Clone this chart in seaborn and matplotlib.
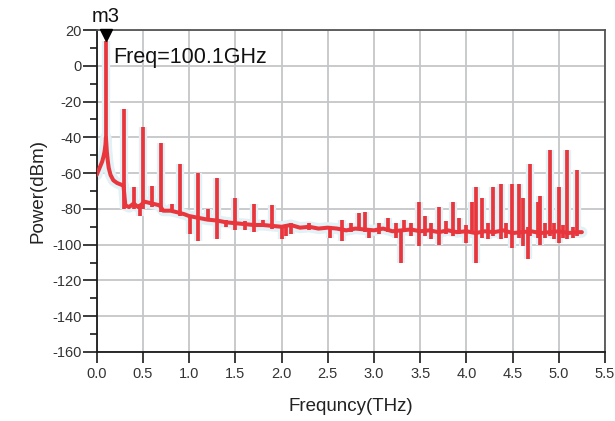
import matplotlib
matplotlib.use("Agg")
import matplotlib.pyplot as plt
from matplotlib.ticker import MultipleLocator
import pandas as pd
import seaborn as sns

# Spectrum floor (THz, dBm)
floor_freq = [0.00, 0.02, 0.04, 0.06, 0.075, 0.085, 0.095, 0.10, 0.105, 0.11,
              0.12, 0.13, 0.15, 0.18, 0.22, 0.29,
              0.31, 0.35, 0.40, 0.45, 0.52, 0.60, 0.68, 0.72, 0.80, 0.88,
              0.95, 1.00, 1.10, 1.20, 1.30, 1.40, 1.50, 1.60, 1.70, 1.80,
              1.90, 2.00, 2.10, 2.20, 2.30, 2.40, 2.50, 2.60, 2.70, 2.80,
              2.90, 3.00, 3.10, 3.20, 3.30, 3.40, 3.50, 3.60, 3.70, 3.80,
              3.90, 4.00, 4.10, 4.20, 4.30, 4.40, 4.50, 4.60, 4.70, 4.80,
              4.90, 5.00, 5.10, 5.20, 5.25]
floor_power = [-61, -58.5, -56, -53.5, -50.5, -48, -44, -40, -44, -48,
               -53, -57, -61, -64, -65.5, -67,
               -78, -79, -77, -79, -76, -77, -78, -81, -81, -82,
               -83, -84, -85, -86, -86.5, -87.5, -88, -88.5, -89, -89,
               -89.5, -90, -89, -90.5, -90, -91, -90.5, -91, -92, -91,
               -91.5, -92, -91, -92.5, -92, -91.5, -92.5, -92, -93, -92,
               -93, -92.5, -93.5, -92.5, -93, -92, -93.5, -93, -92.5, -93.5,
               -93, -92.5, -93.5, -93, -93]

# Spectral lines: frequency, lower and upper excursion (dBm)
line_freq = [0.10, 0.30, 0.40, 0.47, 0.50, 0.60, 0.70, 0.81, 0.90, 1.01,
             1.10, 1.20, 1.30, 1.40, 1.50, 1.60, 1.70, 1.80, 1.90, 2.00,
             2.05, 2.10, 2.30, 2.52, 2.65, 2.75, 2.84, 2.90, 2.95, 3.05,
             3.15, 3.24, 3.29, 3.33, 3.40, 3.49, 3.55, 3.62, 3.70, 3.78,
             3.86, 3.92, 4.00, 4.06, 4.10, 4.17, 4.23, 4.29, 4.37, 4.43,
             4.49, 4.57, 4.61, 4.67, 4.69, 4.77, 4.80, 4.85, 4.90, 4.95,
             5.00, 5.05, 5.09, 5.15, 5.20]
line_low = [-42, -80, -80, -84, -80, -79, -82, -82, -84, -94,
            -98, -86, -97, -90, -92, -92, -93, -90, -91, -97,
            -95, -94, -92, -96, -98, -93, -92, -93, -96, -94,
            -93, -96, -110, -93, -95, -101, -95, -97, -100, -94,
            -95, -94, -99, -94, -110, -96, -97, -95, -97, -96,
            -102, -96, -101, -108, -95, -96, -100, -96, -95, -97,
            -99, -96, -97, -96, -95]
line_high = [14, -24, -68, -77, -34, -67, -43, -77, -55, -84,
             -60, -80, -63, -86, -74, -87, -77, -86, -78, -89,
             -89, -88, -88, -90, -86, -88, -82.5, -82, -91, -88,
             -85, -88, -92, -86, -88, -76, -84, -88, -79, -87,
             -76, -85, -89, -76, -68, -74, -88, -68, -66, -88,
             -66, -66, -74, -90, -55, -76, -73, -88, -47, -88,
             -68, -89, -47, -90, -58]

y_ticks = [20, 0, -20, -40, -60, -80, -100, -120, -140, -160]
x_ticks = [0.0, 0.5, 1.0, 1.5, 2.0, 2.5, 3.0, 3.5, 4.0, 4.5, 5.0, 5.5]

marker_freq = 0.1
marker_name = "m3"
marker_text = "Freq=100.1GHz"

trace_color = "#e8363c"

sns.set_theme(style="white")
plt.rcParams["font.family"] = ["Liberation Sans", "DejaVu Sans"]

fig = plt.figure(figsize=(6.15, 4.21), dpi=100)
ax = fig.add_axes([0.1572, 0.1639, 0.8265, 0.7648])

floor = pd.DataFrame({"freq": floor_freq, "power": floor_power})

# faint halo around the trace
sns.lineplot(data=floor, x="freq", y="power", ax=ax, sort=False,
             estimator=None, color="#e2f1f6", linewidth=8, zorder=2)
ax.vlines(line_freq, line_low, line_high, color="#e2f1f6",
          linewidth=6, zorder=2)

sns.lineplot(data=floor, x="freq", y="power", ax=ax, sort=False,
             estimator=None, color=trace_color, linewidth=2.9, zorder=3)
ax.vlines(line_freq, line_low, line_high, color=trace_color,
          linewidth=2.7, zorder=3)

ax.set_xlim(0, 5.5)
ax.set_ylim(-160, 20)
ax.set_xticks(x_ticks)
ax.set_xticklabels([f"{t:.1f}" for t in x_ticks])
ax.set_yticks(y_ticks)
ax.set_yticklabels([str(t) for t in y_ticks])
ax.yaxis.set_minor_locator(MultipleLocator(10))

ax.grid(True, which="major", color="#c4c6c8", linewidth=1.3, zorder=0)
ax.set_axisbelow(True)

for side in ["left", "bottom"]:
    ax.spines[side].set_color("#1a1a1a")
    ax.spines[side].set_linewidth(1.3)
for side in ["top", "right"]:
    ax.spines[side].set_color("#555555")
    ax.spines[side].set_linewidth(1.3)

ax.tick_params(axis="y", which="major", direction="out", length=10,
               width=1.2, color="#1a1a1a", labelsize=10.5, pad=1,
               labelcolor="#333333", left=True)
ax.tick_params(axis="y", which="minor", direction="out", length=5,
               width=1.2, color="#1a1a1a", left=True)
ax.tick_params(axis="x", which="major", direction="out", length=8,
               width=1.2, color="#1a1a1a", labelsize=10.5, pad=3,
               labelcolor="#333333", bottom=True)

ax.set_xlabel("Frequncy(THz)", fontsize=13.5, color="#222222", labelpad=12)
ax.set_ylabel("Power(dBm)", fontsize=13.5, color="#222222", labelpad=4)

# marker m3 at the carrier
ax.plot([marker_freq], [17], marker="v", color="black", markersize=9,
        clip_on=False, zorder=5)
ax.text(marker_freq, 27.5, marker_name, ha="center", va="center",
        fontsize=14.5, color="#111111", clip_on=False)
ax.text(0.176, 4.5, marker_text, ha="left", va="center",
        fontsize=15.5, color="#111111")

fig.savefig("out.png", dpi=100)
